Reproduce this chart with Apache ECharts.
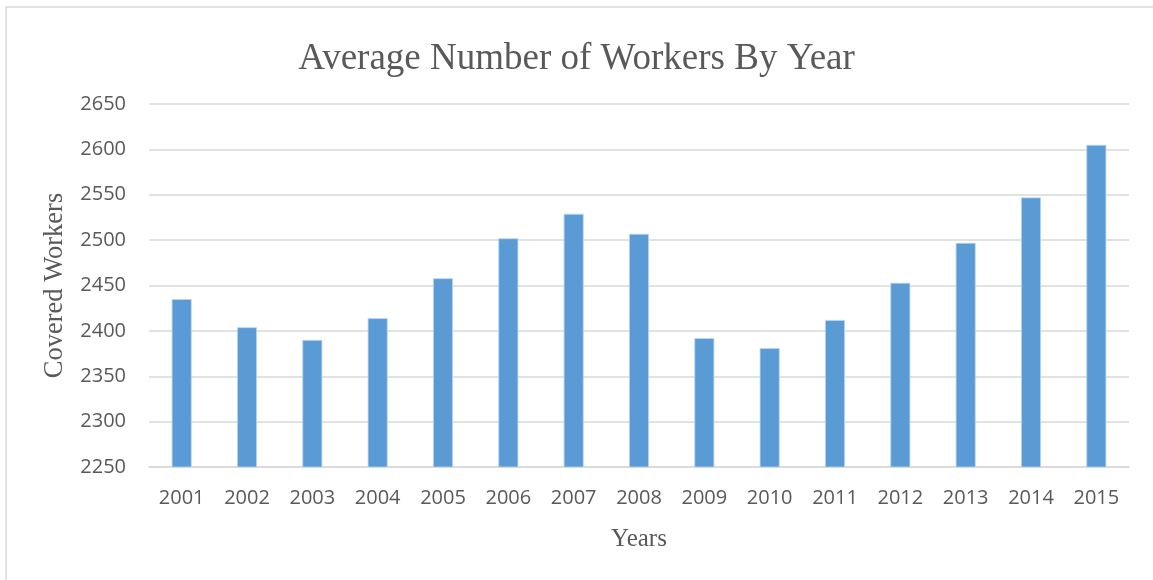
<!DOCTYPE html>
<html>
<head>
<meta charset="utf-8">
<script src="https://cdn.jsdelivr.net/npm/echarts@6/dist/echarts.min.js"></script>
<style>
html,body{margin:0;padding:0;background:#fff;}
#chart{width:1153px;height:580px;}
</style>
</head>
<body>
<div id="chart"></div>
<script>
const years = ['2001','2002','2003','2004','2005','2006','2007','2008','2009','2010','2011','2012','2013','2014','2015'];
const coveredWorkers = [2435, 2404, 2390, 2414, 2458, 2502, 2529, 2507, 2392, 2381, 2412, 2453, 2497, 2547, 2605];
const yMin = 2250, yMax = 2650, yStep = 50;

const chart = echarts.init(document.getElementById('chart'), null, {renderer:'canvas'});
chart.setOption({
  animation: false,
  backgroundColor: '#ffffff',
  title: {
    text: 'Average Number of Workers By Year',
    left: 'center',
    top: 36,
    textStyle: {fontFamily: '"Liberation Serif", "Times New Roman", serif', fontSize: 37, fontWeight: 'normal', color: '#595959'}
  },
  graphic: [{
    type: 'rect', silent: true, z: -1,
    shape: {x: 6, y: 7, width: 1200, height: 700},
    style: {fill: 'none', stroke: '#D9D9D9', lineWidth: 1.5}
  }],
  grid: {left: 149, right: 24, top: 104, bottom: 113},
  xAxis: {
    type: 'category',
    data: years,
    name: 'Years',
    nameLocation: 'middle',
    nameGap: 60,
    nameTextStyle: {fontFamily: '"Liberation Serif", "Times New Roman", serif', fontSize: 25, color: '#595959'},
    axisLine: {lineStyle: {color: '#D9D9D9', width: 1.5}},
    axisTick: {show: false},
    axisLabel: {fontFamily: '"Open Sans", sans-serif', fontSize: 20, color: '#595959', margin: 21}
  },
  yAxis: {
    type: 'value',
    min: yMin, max: yMax, interval: yStep,
    name: 'Covered Workers',
    nameLocation: 'middle',
    nameGap: 80,
    nameTextStyle: {fontFamily: '"Liberation Serif", "Times New Roman", serif', fontSize: 26.5, color: '#595959'},
    axisLine: {show: false},
    axisTick: {show: false},
    splitLine: {lineStyle: {color: '#D9D9D9', width: 1.5}},
    axisLabel: {fontFamily: '"Open Sans", sans-serif', fontSize: 20, color: '#595959', margin: 23,
      formatter: function (v) { return String(v); }}
  },
  series: [{
    type: 'bar',
    data: coveredWorkers,
    barWidth: 20,
    itemStyle: {color: '#5B9BD5', borderColor: '#BDD7EE', borderWidth: 0.8}
  }]
});
</script>
</body>
</html>
